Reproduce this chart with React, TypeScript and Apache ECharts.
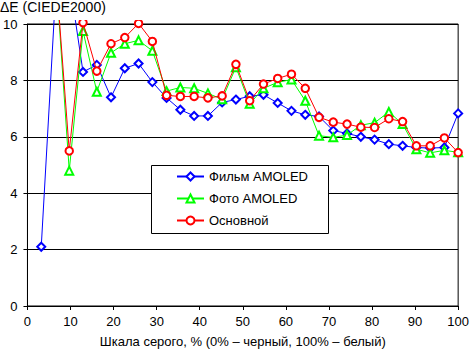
import React, { useEffect, useRef } from "react";
import * as echarts from "echarts";

const xValues: number[] = [0, 3.2, 6.5, 9.7, 12.9, 16.1, 19.4, 22.6, 25.8, 29.0, 32.3, 35.5, 38.7, 41.9, 45.2, 48.4, 51.6, 54.8, 58.1, 61.3, 64.5, 67.7, 71.0, 74.2, 77.4, 80.6, 83.9, 87.1, 90.3, 93.5, 96.8, 100];

const filmAmoled: (number | null)[] = [null, 2.1, 11.0, 11.6, 8.3, 8.55, 7.4, 8.43, 8.6, 7.94, 7.38, 6.96, 6.74, 6.74, 7.22, 7.32, 7.44, 7.49, 7.2, 6.92, 6.78, 6.72, 6.22, 6.12, 6.0, 5.9, 5.74, 5.68, 5.62, 5.6, 5.62, 6.83];
const fotoAmoled: (number | null)[] = [null, null, 12.0, 4.8, 9.75, 7.6, 8.98, 9.3, 9.42, 9.05, 7.62, 7.75, 7.72, 7.54, 7.33, 8.47, 7.17, 7.72, 7.93, 8.03, 7.28, 6.04, 5.98, 6.06, 6.41, 6.5, 6.88, 6.45, 5.56, 5.43, 5.52, 5.45];
const osnovnoy: (number | null)[] = [null, null, 12.0, 5.5, 10.05, 8.33, 9.3, 9.52, 10.02, 9.38, 7.47, 7.43, 7.43, 7.38, 7.45, 8.57, 7.28, 7.87, 8.07, 8.22, 7.72, 6.69, 6.52, 6.45, 6.34, 6.33, 6.64, 6.54, 5.68, 5.68, 5.96, 5.44];

const seriesNames = ["Фильм AMOLED", "Фото AMOLED", "Основной"];
const seriesColors = ["#0000ff", "#00ff00", "#ff0000"];
const seriesSymbols = ["emptyDiamond", "emptyTriangle", "emptyCircle"];
const seriesSymbolSizes = [8, 8, 7.5];
const seriesData = [filmAmoled, fotoAmoled, osnovnoy];

const xTitle = "Шкала серого, % (0% – черный, 100% – белый)";
const yTitle = "ΔE (CIEDE2000)";

const FONT = "'Liberation Sans', Arial, sans-serif";

export default function App() {
  const ref = useRef<HTMLDivElement>(null);
  useEffect(() => {
    if (!ref.current) return;
    const chart = echarts.init(ref.current, undefined, { renderer: "svg" });
    const series = seriesNames.map((name, k) => ({
      name,
      type: "line",
      clip: false,
      data: xValues.map((x, i) => [x, seriesData[k][i]]),
      connectNulls: false,
      symbol: seriesSymbols[k],
      symbolSize: seriesSymbolSizes[k],
      showAllSymbol: true,
      color: seriesColors[k],
      lineStyle: { color: seriesColors[k], width: 1 },
      itemStyle: { color: seriesColors[k], borderColor: seriesColors[k], borderWidth: 1 },
      emphasis: { disabled: true },
      z: 2 + k,
    }));
    chart.setOption({
      animation: false,
      backgroundColor: "#ffffff",
      textStyle: { fontFamily: FONT },
      title: {
        text: yTitle,
        left: 0,
        top: 0,
        padding: 0,
        z: 60,
        textStyle: { fontSize: 14, fontWeight: "normal", color: "#000", fontFamily: FONT },
      },
      grid: {
        left: 23,
        top: 24,
        right: 10,
        bottom: 43,
        show: true,
        borderColor: "#000",
        borderWidth: 1,
        backgroundColor: "transparent",
      },
      legend: {
        data: seriesNames,
        orient: "vertical",
        left: 176,
        top: 170,
        padding: 0,
        itemWidth: 27,
        itemHeight: 10,
        itemGap: 9,
        selectedMode: false,
        z: 80,
        textStyle: { fontSize: 13, color: "#000", fontFamily: FONT },
      },
      graphic: [
        {
          type: "rect",
          z: 50,
          shape: { x: 23, y: 0, width: 450, height: 20 },
          style: { fill: "#fff" },
          silent: true,
        },
        {
          type: "rect",
          z: 70,
          shape: { x: 151.5, y: 165.5, width: 177, height: 68 },
          style: { fill: "#fff", stroke: "#000", lineWidth: 1 },
          silent: true,
        },
      ],
      xAxis: {
        type: "value",
        min: 0,
        max: 100,
        interval: 10,
        name: xTitle,
        nameLocation: "middle",
        nameGap: 29,
        nameTextStyle: { fontSize: 13, color: "#000", fontFamily: FONT },
        axisLine: { show: true, lineStyle: { color: "#000", width: 1 } },
        axisTick: { show: true, inside: false, length: 4, lineStyle: { color: "#000" } },
        axisLabel: { fontSize: 13, color: "#000", margin: 9, fontFamily: FONT },
        splitLine: { show: false },
      },
      yAxis: {
        type: "value",
        min: 0,
        max: 10,
        interval: 2,
        axisLine: { show: true, lineStyle: { color: "#000", width: 1 } },
        axisTick: { show: true, inside: false, length: 4, lineStyle: { color: "#000" } },
        axisLabel: { fontSize: 13, color: "#000", margin: 10, fontFamily: FONT },
        splitLine: { show: true, lineStyle: { color: "#000", width: 1, type: "solid" } },
      },
      series,
    });
    return () => chart.dispose();
  }, []);
  return (
    <div
      ref={ref}
      style={{ position: "fixed", left: 0, top: 0, width: 472, height: 353, background: "#fff" }}
    />
  );
}
